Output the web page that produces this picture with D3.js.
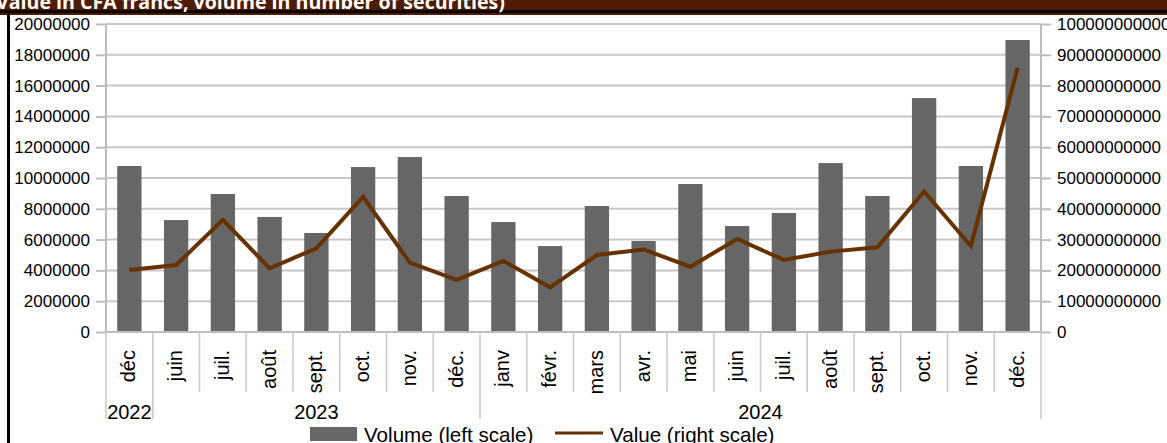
<!DOCTYPE html>
<html>
<head>
<meta charset="utf-8">
<script src="https://cdn.jsdelivr.net/npm/d3@7"></script>
<style>
  body { margin: 0; background: #fff; overflow: hidden; }
  svg { display: block; }
  .axis text { font-family: "Liberation Sans", Arial, sans-serif; font-size: 17px; fill: #000; }
  .axis path, .axis line { stroke: #bdbdbd; stroke-width: 2; }
</style>
</head>
<body>
<div id="chart"></div>
<script>
// chart data
var months = ["déc", "juin", "juil.", "août", "sept.", "oct.", "nov.", "déc.", "janv", "févr.",
              "mars", "avr.", "mai", "juin", "juil.", "août", "sept.", "oct.", "nov.", "déc."];
var yearLabels = ["2022", "2023", "2024"];
var yearSpans = [1, 7, 12];   // number of months under each year
var volume = [10780000, 7270000, 8960000, 7470000, 6430000, 10710000, 11360000, 8830000, 7140000, 5580000,
              8180000, 5910000, 9610000, 6880000, 7730000, 10970000, 8830000, 15190000, 10780000, 18960000];
var value = [20100000000, 21750000000, 36400000000, 20700000000, 27200000000, 43900000000, 22500000000,
             16900000000, 23100000000, 14500000000, 25000000000, 26800000000, 21200000000, 30200000000,
             23400000000, 26100000000, 27500000000, 45600000000, 27900000000, 85800000000];
var leftTicks = d3.range(0, 20000001, 2000000);
var rightTicks = d3.range(0, 100000000001, 10000000000);
var title = "Value in CFA francs, volume in number of securities)";

var totalWidth = 1167, totalHeight = 443;
var plot = {left: 106, right: 1041, top: 24, bottom: 332};

var svg = d3.select("#chart").append("svg")
    .attr("width", totalWidth)
    .attr("height", totalHeight);

// header band + frame
svg.append("rect").attr("x", 0).attr("y", 0).attr("width", totalWidth).attr("height", 15).attr("fill", "#4e1c02");
svg.append("rect").attr("x", 0).attr("y", 10).attr("width", totalWidth).attr("height", 3).attr("fill", "#000");
svg.append("rect").attr("x", 7).attr("y", 10).attr("width", 3).attr("height", totalHeight).attr("fill", "#000");
svg.append("text")
    .attr("x", -4).attr("y", 9)
    .style("font-family", "'Open Sans', sans-serif")
    .style("font-weight", "bold")
    .style("font-size", "19.6px")
    .attr("fill", "#fff")
    .text(title);

// scales
var idx = d3.range(months.length);
var x = d3.scaleBand().domain(idx).range([plot.left, plot.right]).padding(0);
var barW = x.bandwidth() * 0.52;
var yL = d3.scaleLinear().domain([0, 20000000]).range([plot.bottom, plot.top]);
var yR = d3.scaleLinear().domain([0, 100000000000]).range([plot.bottom, plot.top]);

// gridlines
svg.append("g").selectAll("line")
    .data(leftTicks.slice(1))
    .enter().append("line")
    .attr("x1", plot.left).attr("x2", plot.right)
    .attr("y1", function(d) { return yL(d); })
    .attr("y2", function(d) { return yL(d); })
    .attr("stroke", "#c8c8c8").attr("stroke-width", 2);

// axes
svg.append("g").attr("class", "axis")
    .attr("transform", "translate(" + plot.left + ",0)")
    .call(d3.axisLeft(yL).tickValues(leftTicks).tickFormat(d3.format("d")).tickSize(10).tickSizeOuter(0).tickPadding(6));
svg.append("g").attr("class", "axis")
    .attr("transform", "translate(" + plot.right + ",0)")
    .call(d3.axisRight(yR).tickValues(rightTicks).tickFormat(d3.format("d")).tickSize(10).tickSizeOuter(0).tickPadding(6));
svg.selectAll(".axis path").attr("d", function() {
    return "M0," + plot.top + "V" + plot.bottom;
});

// bars
svg.append("g").selectAll("rect")
    .data(volume)
    .enter().append("rect")
    .attr("x", function(d, i) { return x(i) + (x.bandwidth() - barW) / 2; })
    .attr("y", function(d) { return yL(d); })
    .attr("width", barW)
    .attr("height", function(d) { return plot.bottom - yL(d); })
    .attr("fill", "#666666");

// category axis
svg.append("line")
    .attr("x1", plot.left).attr("x2", plot.right)
    .attr("y1", plot.bottom).attr("y2", plot.bottom)
    .attr("stroke", "#bdbdbd").attr("stroke-width", 2);

// separators: month cells and year groups
var yearEdges = [0];
yearSpans.forEach(function(s, i) { yearEdges.push(yearEdges[i] + s); });
svg.append("g").selectAll("line")
    .data(d3.range(months.length + 1))
    .enter().append("line")
    .attr("x1", function(i) { return i < months.length ? x(i) : plot.right; })
    .attr("x2", function(i) { return i < months.length ? x(i) : plot.right; })
    .attr("y1", plot.bottom)
    .attr("y2", function(i) { return yearEdges.indexOf(i) >= 0 ? 419 : 392; })
    .attr("stroke", "#c8c8c8").attr("stroke-width", 1.5);

svg.append("g").selectAll("text")
    .data(months)
    .enter().append("text")
    .attr("transform", function(d, i) {
        return "translate(" + (x(i) + x.bandwidth() / 2 + 6) + ",350) rotate(-90)";
    })
    .style("text-anchor", "end")
    .style("font-family", "'Liberation Sans', Arial, sans-serif")
    .style("font-size", "20px")
    .text(function(d) { return d; });

svg.append("g").selectAll("text")
    .data(yearLabels)
    .enter().append("text")
    .attr("x", function(d, i) {
        var a = x(yearEdges[i]);
        var b = yearEdges[i + 1] < months.length ? x(yearEdges[i + 1]) : plot.right;
        return (a + b) / 2;
    })
    .attr("y", 419)
    .style("text-anchor", "middle")
    .style("font-family", "'Liberation Sans', Arial, sans-serif")
    .style("font-size", "20px")
    .text(function(d) { return d; });

// value line
var line = d3.line()
    .x(function(d, i) { return x(i) + x.bandwidth() / 2; })
    .y(function(d) { return yR(d); });
svg.append("path")
    .datum(value)
    .attr("d", line)
    .attr("fill", "none")
    .attr("stroke", "#663300")
    .attr("stroke-width", 4)
    .attr("stroke-linejoin", "miter");

// legend
var legend = svg.append("g")
    .style("font-family", "'Liberation Sans', Arial, sans-serif")
    .style("font-size", "20.6px");
legend.append("rect").attr("x", 310).attr("y", 427).attr("width", 47).attr("height", 14).attr("fill", "#666666");
legend.append("text").attr("x", 364).attr("y", 442).text("Volume (left scale)");
legend.append("line").attr("x1", 555).attr("x2", 603).attr("y1", 433).attr("y2", 433)
    .attr("stroke", "#663300").attr("stroke-width", 3);
legend.append("text").attr("x", 610).attr("y", 442).text("Value (right scale)");
</script>
</body>
</html>
